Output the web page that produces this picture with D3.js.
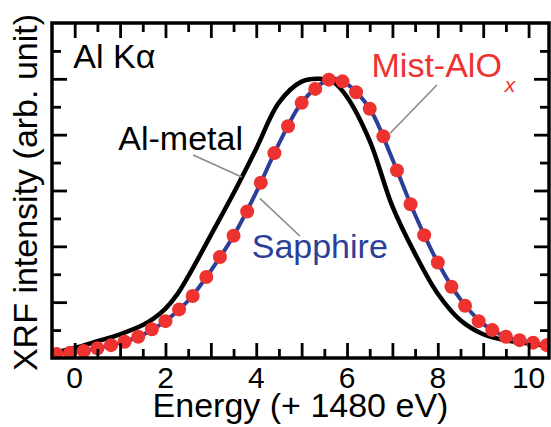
<!DOCTYPE html>
<html>
<head>
<meta charset="utf-8">
<script src="https://cdn.jsdelivr.net/npm/d3@7"></script>
<style>
  html, body { margin: 0; padding: 0; background: #fff; }
  svg { display: block; font-family: "Liberation Sans", Arial, sans-serif; }
</style>
</head>
<body>
<svg id="chart" width="551" height="427"></svg>
<script>
// Mist-AlOx (red dots)
const mistX = [-0.4, -0.1, 0.2, 0.5, 0.8, 1.1, 1.4, 1.7, 2.0, 2.3, 2.6, 2.9, 3.2, 3.5, 3.8, 4.1, 4.4, 4.7, 5.0,
  5.3, 5.6, 5.9, 6.2, 6.5, 6.8, 7.1, 7.4, 7.7, 8.0, 8.3, 8.6, 8.9, 9.2, 9.5, 9.8, 10.1, 10.4];
const mistY = [0.014, 0.019, 0.025, 0.035, 0.046, 0.058, 0.076, 0.103, 0.132, 0.174, 0.222, 0.29, 0.362, 0.438,
  0.525, 0.628, 0.734, 0.83, 0.914, 0.964, 0.997, 0.991, 0.952, 0.893, 0.794, 0.672, 0.551, 0.44, 0.342, 0.255,
  0.187, 0.132, 0.1, 0.076, 0.064, 0.055, 0.046];

// Sapphire (blue line)
const sapphireX = [-0.5, 0, 0.5, 1, 1.5, 2, 2.5, 3, 3.5, 4, 4.5, 5, 5.5, 5.75, 6, 6.5, 7, 7.5, 8, 8.5, 9, 9.5, 10, 10.45];
const sapphireY = [0.012, 0.021, 0.035, 0.054, 0.083, 0.132, 0.205, 0.313, 0.438, 0.594, 0.768, 0.914, 0.99, 1.0,
  0.982, 0.893, 0.712, 0.513, 0.342, 0.21, 0.122, 0.076, 0.057, 0.045];

// Al-metal (black line)
const metalX = [-0.5, 0, 0.5, 1, 1.5, 1.75, 2, 2.25, 2.5, 2.75, 3, 3.5, 4, 4.5, 5, 5.4, 5.7, 6, 6.5, 7, 7.5, 8,
  8.5, 9, 9.5, 10, 10.45];
const metalY = [0.018, 0.036, 0.06, 0.085, 0.118, 0.143, 0.177, 0.226, 0.292, 0.365, 0.44, 0.59, 0.75, 0.915,
  0.99, 1.0, 0.988, 0.935, 0.778, 0.543, 0.373, 0.23, 0.135, 0.085, 0.063, 0.052, 0.045];

const xTickLabels = [0, 2, 4, 6, 8, 10];

const RED = '#ee3230';
const BLUE = '#2c3f98';
const GREY = '#8a8a8a';

const width = 551;
const height = 427;
const margin = { top: 23, right: 2, bottom: 69, left: 52 };

const x = d3.scaleLinear().domain([-0.5, 10.45]).range([margin.left, width - margin.right]);
const y = d3.scaleLinear().domain([0, 1.2]).range([height - margin.bottom, margin.top]);

const svg = d3.select('#chart');

svg.append('defs').append('clipPath').attr('id', 'plot-clip')
  .append('rect')
  .attr('x', x.range()[0])
  .attr('y', y.range()[1])
  .attr('width', x.range()[1] - x.range()[0])
  .attr('height', y.range()[0] - y.range()[1]);

const plot = svg.append('g').attr('clip-path', 'url(#plot-clip)');

const line = d3.line()
  .x((d) => x(d[0]))
  .y((d) => y(d[1]))
  .curve(d3.curveCatmullRom.alpha(0.5));

plot.append('path')
  .datum(d3.zip(metalX, metalY))
  .attr('d', line)
  .attr('fill', 'none')
  .attr('stroke', '#000')
  .attr('stroke-width', 4.5);

plot.append('path')
  .datum(d3.zip(sapphireX, sapphireY))
  .attr('d', line)
  .attr('fill', 'none')
  .attr('stroke', BLUE)
  .attr('stroke-width', 4);

// Leader lines (drawn under the dots)
const leaders = [
  [[2.61, 0.727], [3.68, 0.648]],
  [[4.08, 0.572], [4.96, 0.437]],
  [[6.95, 0.805], [7.98, 0.978]],
];
plot.selectAll('line.leader')
  .data(leaders)
  .enter()
  .append('line')
  .attr('class', 'leader')
  .attr('x1', (d) => x(d[0][0]))
  .attr('y1', (d) => y(d[0][1]))
  .attr('x2', (d) => x(d[1][0]))
  .attr('y2', (d) => y(d[1][1]))
  .attr('stroke', GREY)
  .attr('stroke-width', 1.6);

plot.selectAll('circle')
  .data(d3.zip(mistX, mistY))
  .enter()
  .append('circle')
  .attr('cx', (d) => x(d[0]))
  .attr('cy', (d) => y(d[1]))
  .attr('r', 7)
  .attr('fill', RED);

// Axes: ticks inside on all four sides
const axisGroup = (axis, transform) => svg.append('g')
  .attr('transform', transform)
  .call(axis)
  .call((g) => g.select('.domain').remove())
  .call((g) => g.selectAll('.tick line').attr('stroke', '#000').attr('stroke-width', 2.8));

const xMinor = d3.range(-0.5, 10.45, 0.5).filter((v) => v > -0.5);
const yMinor = d3.range(0.1, 1.2, 0.1);
const isMajorX = (v) => Math.abs(v - Math.round(v)) < 1e-6;
const isMajorY = (v) => Math.abs(v * 5 - Math.round(v * 5)) < 1e-6;

const axisB = axisGroup(d3.axisBottom(x).tickValues(xMinor).tickFormat('')
  .tickSizeOuter(0).tickSizeInner(0), `translate(0,${y(0)})`);
axisB.selectAll('.tick line').attr('y2', (d) => (isMajorX(d) ? -15 : -9));

const axisT = axisGroup(d3.axisTop(x).tickValues(xMinor).tickFormat('')
  .tickSizeOuter(0).tickSizeInner(0), `translate(0,${y(1.2)})`);
axisT.selectAll('.tick line').attr('y2', (d) => (isMajorX(d) ? 15 : 9));

const axisL = axisGroup(d3.axisLeft(y).tickValues(yMinor).tickFormat('')
  .tickSizeOuter(0).tickSizeInner(0), `translate(${x(-0.5)},0)`);
axisL.selectAll('.tick line').attr('x2', (d) => (isMajorY(d) ? 15 : 9));

const axisR = axisGroup(d3.axisRight(y).tickValues(yMinor).tickFormat('')
  .tickSizeOuter(0).tickSizeInner(0), `translate(${x(10.45)},0)`);
axisR.selectAll('.tick line').attr('x2', (d) => (isMajorY(d) ? -15 : -9));

// Frame
svg.append('rect')
  .attr('x', x.range()[0])
  .attr('y', y.range()[1])
  .attr('width', x.range()[1] - x.range()[0])
  .attr('height', y.range()[0] - y.range()[1])
  .attr('fill', 'none')
  .attr('stroke', '#000')
  .attr('stroke-width', 3.5);

// Tick labels
svg.append('g')
  .selectAll('text')
  .data(xTickLabels)
  .enter()
  .append('text')
  .attr('x', (d) => x(d))
  .attr('y', 388)
  .attr('text-anchor', 'middle')
  .attr('font-size', 30)
  .text((d) => d);

// Axis titles
svg.append('text')
  .attr('x', (x.range()[0] + x.range()[1]) / 2)
  .attr('y', 417)
  .attr('text-anchor', 'middle')
  .attr('font-size', 34)
  .text('Energy (+ 1480 eV)');

svg.append('text')
  .attr('transform', `translate(37,${(y.range()[0] + y.range()[1]) / 2 + 2}) rotate(-90)`)
  .attr('text-anchor', 'middle')
  .attr('font-size', 34)
  .text('XRF intensity (arb. unit)');

// Annotations
svg.append('text')
  .attr('x', x(-0.03))
  .attr('y', y(1.038))
  .attr('font-size', 34)
  .text('Al Kα');

svg.append('text')
  .attr('x', x(0.96))
  .attr('y', y(0.745))
  .attr('font-size', 34)
  .text('Al-metal');

svg.append('text')
  .attr('x', x(3.9))
  .attr('y', y(0.357))
  .attr('font-size', 34)
  .attr('fill', BLUE)
  .text('Sapphire');

const mist = svg.append('text')
  .attr('x', x(6.54))
  .attr('y', y(1.007))
  .attr('font-size', 34)
  .attr('fill', RED);
mist.append('tspan').text('Mist-AlO');
mist.append('tspan')
  .attr('dx', 3)
  .attr('dy', 15)
  .attr('font-size', 21)
  .attr('font-style', 'italic')
  .text('x');
</script>
</body>
</html>
